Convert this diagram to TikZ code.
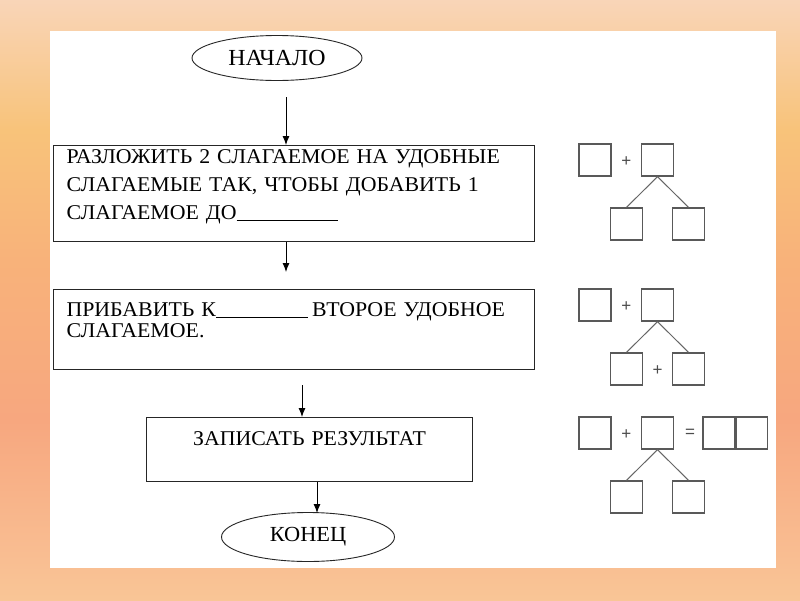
\documentclass[tikz,border=0pt]{standalone}
\usepackage{fontspec}
\setmainfont{Liberation Serif}[FakeStretch=1.04]
\newfontfamily\signfont{Liberation Sans}
\usepackage{tikz}
\usetikzlibrary{shapes.geometric,arrows.meta,positioning,calc}

% background colours, top to bottom
\definecolor{bgA}{RGB}{251,233,208}
\definecolor{bgB}{RGB}{252,232,216}
\definecolor{bgC}{RGB}{253,226,234}
\definecolor{bgD}{RGB}{249,213,184}
\definecolor{bgE}{RGB}{248,195,122}
\definecolor{bgF}{RGB}{248,178,122}
\definecolor{bgG}{RGB}{247,167,127}
\definecolor{bgH}{RGB}{249,190,146}
\definecolor{bgI}{RGB}{250,213,158}
\definecolor{bgJ}{RGB}{249,220,198}
\definecolor{bgK}{RGB}{252,224,220}
\definecolor{bgL}{RGB}{252,228,230}
\pgfdeclareverticalshading{bgfade}{100bp}{color(0bp)=(bgL); color(3.3bp)=(bgK);
  color(10bp)=(bgJ); color(18.3bp)=(bgI); color(28.3bp)=(bgH); color(40bp)=(bgG);
  color(53.3bp)=(bgF); color(64.2bp)=(bgE); color(75bp)=(bgD); color(83.3bp)=(bgC);
  color(93.3bp)=(bgB); color(100bp)=(bgA)}

\tikzset{
  term/.style={ellipse, draw=black!85, line width=0.9pt, inner sep=0pt},
  stepbox/.style={draw=black!85, line width=1pt, anchor=north west, inner xsep=13pt,
    inner ysep=0pt, font=\fontsize{21}{28}\selectfont},
  cell/.style={draw=black!65, line width=1.3pt, minimum size=32pt, inner sep=0pt},
  twig/.style={draw=black!60, line width=1pt},
  sign/.style={text=black!70, inner sep=0pt, font=\signfont\fontsize{17}{17}\selectfont},
  arr/.style={-{Latex[length=9pt,width=7pt]}, line width=0.9pt},
}
\newcommand{\blank}[1]{\rule[-1.5pt]{#1}{0.8pt}}

\begin{document}
\begin{tikzpicture}[x=1pt,y=-1pt]
  \useasboundingbox (0,0) rectangle (800,600);
  \shade[shading=bgfade] (0,0) rectangle (800,600);
  \fill[white] (50,31) rectangle (776,568);

  % flowchart
  \node[term, minimum width=170pt, minimum height=45pt,
        font=\fontsize{23}{24}\selectfont] (start) at (277,58) {НАЧАЛО};
  \node[stepbox, text width=455pt, align=left, text height=18pt, text depth=78pt]
    (split) at (53,145)
    {РАЗЛОЖИТЬ 2 СЛАГАЕМОЕ НА УДОБНЫЕ\\
     СЛАГАЕМЫЕ ТАК, ЧТОБЫ ДОБАВИТЬ 1\\
     СЛАГАЕМОЕ ДО\blank{101pt}};
  \node[stepbox, text width=455pt, align=left, text height=27pt, text depth=53pt,
        font=\fontsize{21}{21}\selectfont]
    (add) at (53,289)
    {ПРИБАВИТЬ К\blank{92pt}\hspace{4pt}ВТОРОЕ\hspace{7pt}УДОБНОЕ\\
     СЛАГАЕМОЕ.};
  \node[stepbox, inner xsep=0pt, text width=326pt, align=center, text height=28pt,
        text depth=36pt] (result) at (146,417) {ЗАПИСАТЬ РЕЗУЛЬТАТ};
  \node[term, minimum width=173pt, minimum height=49pt,
        font=\fontsize{21.5}{24}\selectfont] (stop) at (308,537) {КОНЕЦ};

  \coordinate (go1) at (286,97);
  \coordinate (go2) at (286,272);
  \coordinate (go3) at (302,385);
  \coordinate (go4) at (317,513);
  \draw[arr] (go1) -- (go1 |- split.north);
  \draw[arr] (go2 |- split.south) -- (go2);
  \draw[arr] (go3) -- (go3 |- result.north);
  \draw[arr] (go4 |- result.south) -- (go4);

  % number schemes
  \foreach \g/\t in {1/144,2/289,3/417} {
    \node[cell] (a\g) at (595,\t+16) {};
    \node[cell] (b\g) at (657.5,\t+16) {};
    \node[cell] (l\g) at (626.5,\t+80) {};
    \node[cell] (r\g) at (688.5,\t+80) {};
    \node[sign] (p\g) at ($(a\g.east)!0.5!(b\g.west)+(0,1.5)$) {+};
    \draw[twig] (b\g.south) -- (l\g.north);
    \draw[twig] (b\g.south) -- (r\g.north);
  }
  \node[sign] (q2) at ($(l2.east)!0.5!(r2.west)+(0,2)$) {+};
  \node[sign] (eq) at (690,433) {=};
  \node[cell] (s1) at (719,433) {};
  \node[cell, minimum width=31pt] (s2) at (s1.east) [anchor=west] {};
\end{tikzpicture}
\end{document}
